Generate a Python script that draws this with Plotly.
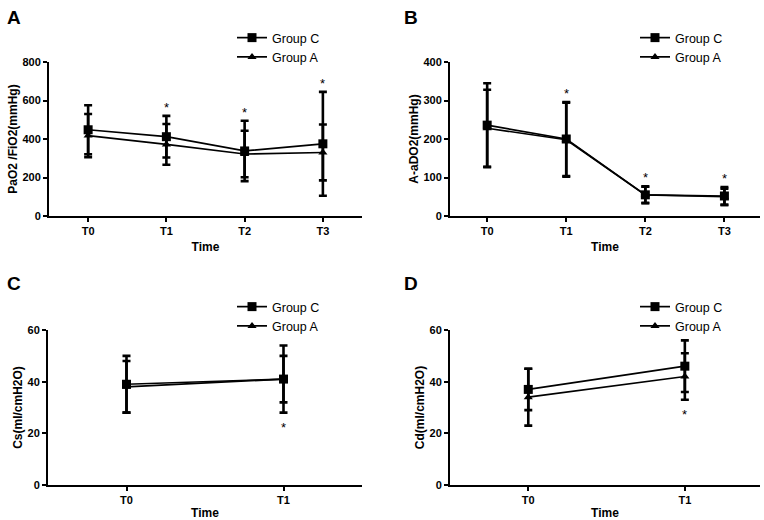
import plotly.graph_objects as go

# ---------------- data ----------------
time4 = ["T0", "T1", "T2", "T3"]
time2 = ["T0", "T1"]

# Panel A: PaO2/FiO2 (mmHg)
a_c_mean = [448, 412, 338, 375]
a_c_sd = [127, 108, 157, 270]
a_a_mean = [418, 372, 322, 330]
a_a_sd = [112, 106, 121, 145]
a_sig = ["", "*", "*", "*"]

# Panel B: A-aDO2 (mmHg)
b_c_mean = [236, 200, 55, 52]
b_c_sd = [109, 96, 22, 23]
b_a_mean = [228, 198, 55, 50]
b_a_sd = [100, 96, 21, 21]
b_sig = ["", "*", "*", "*"]

# Panel C: Cs (ml/cmH2O)
c_c_mean = [39, 41]
c_c_sd = [11, 13]
c_a_mean = [38, 41]
c_a_sd = [10, 9]
c_sig = ["", "*"]

# Panel D: Cd (ml/cmH2O)
d_c_mean = [37, 46]
d_c_sd = [8, 10]
d_a_mean = [34, 42]
d_a_sd = [11, 9]
d_sig = ["", "*"]

panels = [
    dict(letter="A", x=time4, c=a_c_mean, csd=a_c_sd, a=a_a_mean, asd=a_a_sd, sig=a_sig,
         ytitle="PaO2 /FiO2(mmHg)", yrange=[0, 800], dtick=200, star_dir="up"),
    dict(letter="B", x=time4, c=b_c_mean, csd=b_c_sd, a=b_a_mean, asd=b_a_sd, sig=b_sig,
         ytitle="A-aDO2(mmHg)", yrange=[0, 400], dtick=100, star_dir="up"),
    dict(letter="C", x=time2, c=c_c_mean, csd=c_c_sd, a=c_a_mean, asd=c_a_sd, sig=c_sig,
         ytitle="Cs(ml/cmH2O)", yrange=[0, 60], dtick=20, star_dir="down"),
    dict(letter="D", x=time2, c=d_c_mean, csd=d_c_sd, a=d_a_mean, asd=d_a_sd, sig=d_sig,
         ytitle="Cd(ml/cmH2O)", yrange=[0, 60], dtick=20, star_dir="down"),
]

# ---------------- layout geometry ----------------
W, H = 764, 520
FONT = "Liberation Sans, Arial, sans-serif"
xdom = [[49 / W, 362 / W], [450 / W, 760 / W], [48 / W, 362 / W], [450 / W, 760 / W]]
ydom = [[1 - 216 / H, 1 - 62 / H], [1 - 216 / H, 1 - 62 / H],
        [1 - 485 / H, 1 - 330 / H], [1 - 485 / H, 1 - 330 / H]]
xranges = [[-0.5, 3.5], [-0.47, 3.45], [-0.5, 1.5], [-0.5, 1.48]]
letter_pos = [(5, 18), (402, 18), (5, 283), (402, 283)]
legend_pos = [(232, 23), (635, 23), (232, 292), (635, 292)]

fig = go.Figure()
annotations = []
layout = {}

for i, p in enumerate(panels):
    k = "" if i == 0 else str(i + 1)
    xa, ya = "x" + k, "y" + k
    leg = "legend" + k
    fig.add_trace(go.Scatter(
        x=p["x"], y=p["c"], name="Group C", xaxis=xa, yaxis=ya, legend=leg,
        mode="lines+markers",
        line=dict(color="black", width=1.7),
        marker=dict(symbol="square", size=9, color="black"),
        error_y=dict(type="data", array=p["csd"], visible=True, color="black",
                     thickness=2.6, width=4),
        cliponaxis=False,
    ))
    fig.add_trace(go.Scatter(
        x=p["x"], y=p["a"], name="Group A", xaxis=xa, yaxis=ya, legend=leg,
        mode="lines+markers",
        line=dict(color="black", width=1.7),
        marker=dict(symbol="triangle-up", size=8, color="black"),
        error_y=dict(type="data", array=p["asd"], visible=True, color="black",
                     thickness=2.6, width=4),
        cliponaxis=False,
    ))
    # significance stars
    for j, s in enumerate(p["sig"]):
        if not s:
            continue
        if p["star_dir"] == "up":
            yv = max(p["c"][j] + p["csd"][j], p["a"][j] + p["asd"][j])
            annotations.append(dict(x=p["x"][j], y=yv, xref=xa, yref=ya, text=s,
                                    showarrow=False, yanchor="bottom", yshift=-1,
                                    font=dict(family=FONT, size=13, color="black")))
        else:
            yv = min(p["c"][j] - p["csd"][j], p["a"][j] - p["asd"][j])
            annotations.append(dict(x=p["x"][j], y=yv, xref=xa, yref=ya, text=s,
                                    showarrow=False, yanchor="top", yshift=-5,
                                    font=dict(family=FONT, size=13, color="black")))
    # panel letter
    lx, ly = letter_pos[i]
    annotations.append(dict(x=lx / W, y=1 - ly / H, xref="paper", yref="paper",
                            text="<b>%s</b>" % p["letter"], showarrow=False,
                            xanchor="left", yanchor="middle",
                            font=dict(family=FONT, size=19, color="black")))
    axis_common = dict(showline=True, linecolor="black", linewidth=2, ticks="outside",
                       ticklen=4, tickwidth=2, tickcolor="black", showgrid=False,
                       zeroline=False, automargin=False,
                       tickfont=dict(family=FONT, size=11, color="black", weight="bold"))
    layout["xaxis" + k] = dict(axis_common, domain=xdom[i], anchor=ya, type="category",
                               categoryarray=p["x"], range=xranges[i],
                               title=dict(text="Time", standoff=6,
                                          font=dict(family=FONT, size=12, color="black",
                                                    weight="bold")))
    layout["yaxis" + k] = dict(axis_common, domain=ydom[i], anchor=xa, range=p["yrange"],
                               dtick=p["dtick"], tick0=0,
                               title=dict(text=p["ytitle"], standoff=2,
                                          font=dict(family=FONT, size=12, color="black",
                                                    weight="bold")))
    gx, gy = legend_pos[i]
    layout[leg] = dict(x=gx / W, y=1 - gy / H, xanchor="left", yanchor="top",
                       bgcolor="rgba(0,0,0,0)",
                       font=dict(family=FONT, size=12.5, color="black"))

fig.update_layout(
    width=W, height=H,
    margin=dict(l=0, r=0, t=0, b=0),
    paper_bgcolor="white", plot_bgcolor="white",
    showlegend=True,
    annotations=annotations,
    **layout,
)

fig.write_html("out.html", config={"displayModeBar": False},
               post_script="document.body.style.margin='0';")
